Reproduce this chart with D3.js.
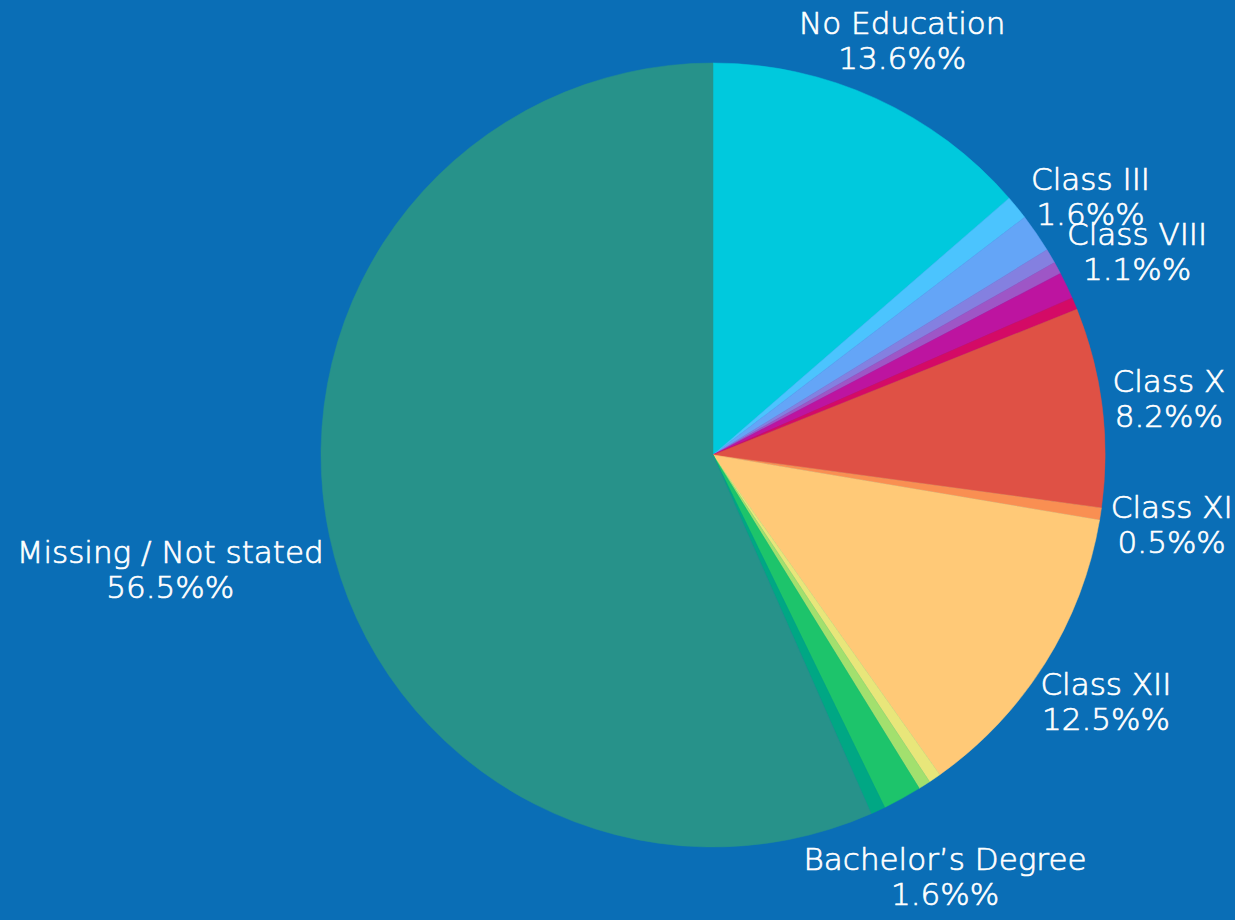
<!DOCTYPE html>
<html>
<head>
<meta charset="utf-8">
<script src="https://cdn.jsdelivr.net/npm/d3@7/dist/d3.min.js"></script>
<style>
  html, body { margin: 0; padding: 0; background: #0A6EB6; }
  svg { display: block; }
</style>
</head>
<body>
<svg id="chart" width="1235" height="920"></svg>
<script>
// ---- data ----
const categories = [
  "No Education", "Class II", "Class III", "Class V", "Class VII", "Class VIII",
  "Class IX", "Class X", "Class XI", "Class XII", "Diploma", "Certificate",
  "Bachelor’s Degree", "Master’s Degree", "Missing / Not stated"
];
const values = [13.6, 1.0, 1.6, 0.6, 0.5, 1.1, 0.5, 8.2, 0.5, 12.5, 0.5, 0.5, 1.6, 0.6, 56.5];
const colors = [
  "#00C9DD", "#4BC4FE", "#64A5F7", "#8480E0", "#9E56C6", "#BD14A0",
  "#D40A66", "#DF5145", "#F98F52", "#FFC977", "#E8E67A", "#A2E06E",
  "#1DC46B", "#00A784", "#27928A"
];
// categories whose labels are shown in the chart
const labelled = [
  "No Education", "Class III", "Class VIII", "Class X", "Class XI",
  "Class XII", "Bachelor’s Degree", "Missing / Not stated"
];

// ---- layout ----
const W = 1235, H = 920;
const cx = 713, cy = 455, R = 392;
const svg = d3.select("#chart");
svg.append("rect").attr("width", W).attr("height", H).attr("fill", "#0A6EB6");

const data = categories.map((c, i) => ({ name: c, value: values[i], color: colors[i] }));
const pie = d3.pie().sort(null).value(d => d.value);
const arcs = pie(data);
const arc = d3.arc().innerRadius(0).outerRadius(R);

const g = svg.append("g").attr("transform", `translate(${cx},${cy})`);
g.selectAll("path.slice")
  .data(arcs)
  .enter().append("path")
  .attr("class", "slice")
  .attr("d", arc)
  .attr("fill", d => d.data.color)
  .attr("stroke", d => d.data.color)
  .attr("stroke-width", 0.5);

// ---- labels ----
const fontSize = 31, lineGap = 35, halfH = 12, pad = 10;
const lg = g.append("g").attr("class", "labels");
arcs.filter(d => labelled.includes(d.data.name)).forEach(d => {
  const t = lg.append("text")
    .attr("fill", "#ffffff")
    .attr("stroke", "#ffffff")
    .attr("stroke-width", 0.7)
    .attr("font-family", "'DejaVu Sans', sans-serif")
    .attr("font-weight", 200)
    .attr("font-size", fontSize)
    .attr("text-anchor", "middle");
  const l1 = t.append("tspan").attr("x", 0).text(d.data.name);
  const l2 = t.append("tspan").attr("x", 0).text(d.data.value.toFixed(1) + "%%");
  const w = Math.max(l1.node().getComputedTextLength(), l2.node().getComputedTextLength());
  const a = (d.startAngle + d.endAngle) / 2;
  const s = Math.sin(a), c = -Math.cos(a);
  const r = R + pad + (w / 2) * Math.abs(s) + halfH * Math.abs(c);
  const x = r * s, y = r * c;
  l1.attr("x", x).attr("y", y - lineGap / 2 + 11);
  l2.attr("x", x).attr("y", y + lineGap / 2 + 11);
});
</script>
</body>
</html>
